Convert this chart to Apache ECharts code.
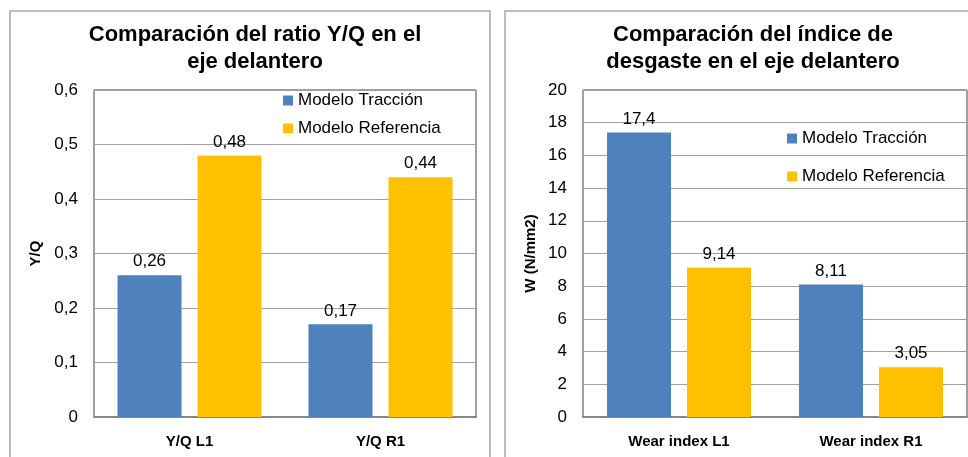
<!DOCTYPE html>
<html>
<head>
<meta charset="utf-8">
<script src="https://cdn.jsdelivr.net/npm/echarts@6/dist/echarts.min.js"></script>
<style>
  html, body { margin: 0; padding: 0; background: #fff; }
  #chart { width: 968px; height: 457px; }
</style>
</head>
<body>
<div id="chart"></div>
<script>
// Series names shared by both panels
const seriesNames = ['Modelo Tracción', 'Modelo Referencia'];

// Panel 1: Y/Q ratio on the front axle
const yqCategories = ['Y/Q L1', 'Y/Q R1'];
const yqTraccion = [0.26, 0.17];
const yqReferencia = [0.48, 0.44];

// Panel 2: wear index on the front axle
const wearCategories = ['Wear index L1', 'Wear index R1'];
const wearTraccion = [17.4, 8.11];
const wearReferencia = [9.14, 3.05];

const FONT = "'Liberation Sans', Arial, sans-serif";
const BLUE = '#4F81BD';
const GOLD = '#FFC000';

const comma = v => String(v).replace('.', ',');

const chart = echarts.init(document.getElementById('chart'), null, { renderer: 'canvas' });

function valueAxis(gridIndex, max, interval, name, nameGap, digits) {
  return {
    type: 'value', gridIndex, min: 0, max, interval,
    name, nameLocation: 'middle', nameRotate: 90, nameGap,
    nameTextStyle: { fontFamily: FONT, fontSize: 15, fontWeight: 'bold', color: '#000' },
    axisLine: { show: false }, axisTick: { show: false },
    axisLabel: {
      fontFamily: FONT, fontSize: 17, color: '#000', margin: 16,
      formatter: v => v === 0 ? '0' : v.toFixed(digits).replace('.', ',')
    },
    splitLine: { lineStyle: { color: '#a0a0a0', width: 1 } }
  };
}

function categoryAxis(gridIndex, data) {
  return {
    type: 'category', gridIndex, data,
    axisLine: { lineStyle: { color: '#868686', width: 2 } },
    axisTick: { show: false },
    axisLabel: { fontFamily: FONT, fontSize: 15, fontWeight: 'bold', color: '#000', margin: 17 }
  };
}

function barSeries(name, data, idx, color) {
  return {
    type: 'bar', name, data, xAxisIndex: idx, yAxisIndex: idx,
    barWidth: 64, barGap: '25%',
    itemStyle: { color },
    label: {
      show: true, position: 'top', distance: 5,
      fontFamily: FONT, fontSize: 17, color: '#000',
      formatter: p => comma(p.value)
    }
  };
}

const titleStyle = { fontFamily: FONT, fontSize: 22, fontWeight: 'bold', color: '#000', lineHeight: 27 };
const legendText = { fontFamily: FONT, fontSize: 17, color: '#000' };

chart.setOption({
  backgroundColor: '#fff',
  animation: false,
  color: [BLUE, GOLD],
  graphic: [
    { type: 'rect', shape: { x: 10, y: 11, width: 480, height: 470 },
      style: { fill: 'none', stroke: '#a8a8a8', lineWidth: 1.5 }, silent: true },
    { type: 'rect', shape: { x: 505, y: 11, width: 490, height: 470 },
      style: { fill: 'none', stroke: '#a8a8a8', lineWidth: 1.5 }, silent: true }
  ],
  title: [
    { text: 'Comparación del ratio Y/Q en el\neje delantero', left: 250, top: 16,
      textAlign: 'center', textStyle: titleStyle },
    { text: 'Comparación del índice de\ndesgaste en el eje delantero', left: 748, top: 16,
      textAlign: 'center', textStyle: titleStyle }
  ],
  legend: [
    { orient: 'vertical', left: 283, top: 92, padding: 0, itemWidth: 10, itemHeight: 10, itemGap: 11,
      icon: 'rect', data: seriesNames, textStyle: legendText, selectedMode: false },
    { orient: 'vertical', left: 787, top: 130, padding: 0, itemWidth: 10, itemHeight: 10, itemGap: 21,
      icon: 'rect', data: seriesNames, textStyle: legendText, selectedMode: false }
  ],
  grid: [
    { left: 94, top: 90, width: 382, height: 327, show: true, borderColor: '#404040', borderWidth: 1 },
    { left: 583, top: 90, width: 384, height: 327, show: true, borderColor: '#404040', borderWidth: 1 }
  ],
  xAxis: [categoryAxis(0, yqCategories), categoryAxis(1, wearCategories)],
  yAxis: [
    valueAxis(0, 0.6, 0.1, 'Y/Q', 51, 1),
    valueAxis(1, 20, 2, 'W (N/mm2)', 45, 0)
  ],
  series: [
    barSeries(seriesNames[0], yqTraccion, 0, BLUE),
    barSeries(seriesNames[1], yqReferencia, 0, GOLD),
    barSeries(seriesNames[0], wearTraccion, 1, BLUE),
    barSeries(seriesNames[1], wearReferencia, 1, GOLD)
  ]
});
</script>
</body>
</html>
